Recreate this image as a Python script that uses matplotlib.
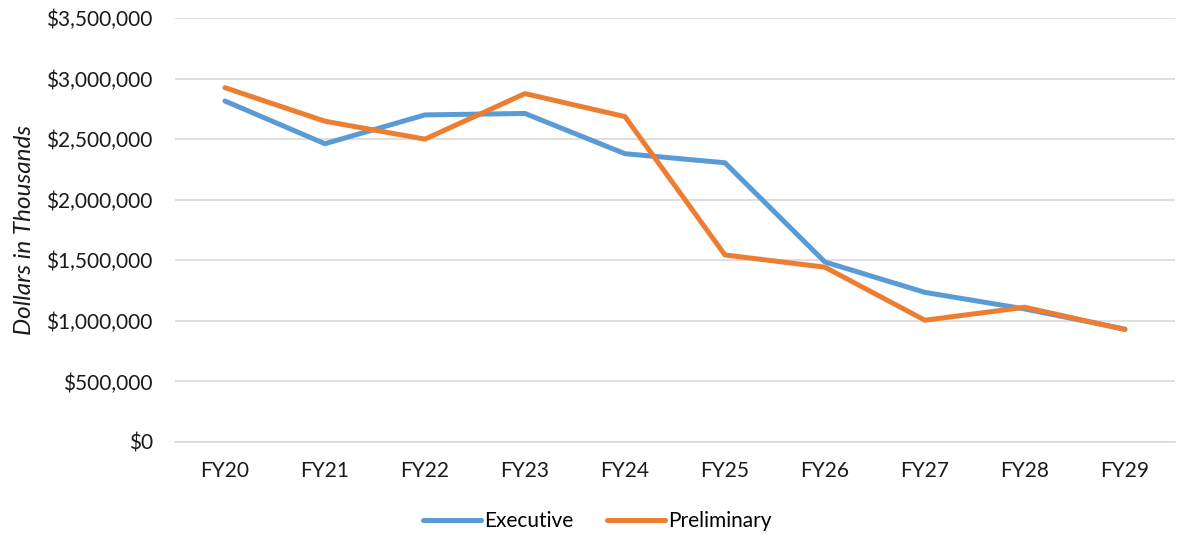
import matplotlib
matplotlib.use('Agg')
import matplotlib.pyplot as plt
from matplotlib.ticker import FuncFormatter

plt.rcParams['font.family'] = ['Lato', 'DejaVu Sans']

# Data (dollars in thousands)
years = ["FY20", "FY21", "FY22", "FY23", "FY24", "FY25", "FY26", "FY27", "FY28", "FY29"]
executive = [2815000, 2462000, 2700000, 2712000, 2380000, 2305000, 1486000, 1235000, 1098000, 932000]
preliminary = [2925000, 2648000, 2500000, 2876000, 2686000, 1544000, 1443000, 1005000, 1112000, 928000]

fig = plt.figure(figsize=(11.82, 5.39), dpi=100)
ax = fig.add_axes([0.148, 0.18, 0.846, 0.7866])

x = range(len(years))
ax.plot(x, executive, color="#5B9BD5", linewidth=3.6, solid_capstyle="round",
        solid_joinstyle="round", label="Executive")
ax.plot(x, preliminary, color="#ED7D31", linewidth=3.6, solid_capstyle="round",
        solid_joinstyle="round", label="Preliminary")

ax.set_xlim(-0.5, len(years) - 0.5)
ax.set_ylim(0, 3500000)
ax.set_yticks(range(0, 3500001, 500000))
ax.yaxis.set_major_formatter(FuncFormatter(lambda v, p: f"${v:,.0f}"))
ax.set_xticks(list(x))
ax.set_xticklabels(years)

ax.grid(axis="y", color="#D9D9D9", linewidth=1.2)
ax.set_axisbelow(True)
for s in ["top", "right", "left"]:
    ax.spines[s].set_visible(False)
ax.spines["bottom"].set_color("#D9D9D9")
ax.spines["bottom"].set_linewidth(1.2)
ax.tick_params(axis="both", length=0, labelsize=15, colors="#1a1a1a")
ax.tick_params(axis="y", pad=16)
ax.tick_params(axis="x", pad=14)

ax.set_ylabel("Dollars in Thousands", fontsize=17.5, fontstyle="italic", color="#1a1a1a", labelpad=8)

leg = ax.legend(loc="lower center", bbox_to_anchor=(0.4225, -0.255), ncol=2, frameon=False,
                fontsize=15, handlelength=2.8, handletextpad=0.15, columnspacing=1.6)

fig.savefig("out.png", dpi=100)
